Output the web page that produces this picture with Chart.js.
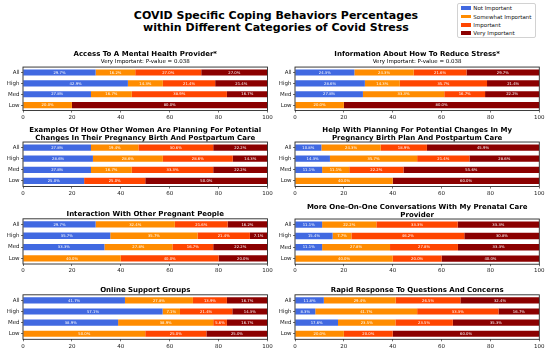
<!DOCTYPE html>
<html>
<head>
<meta charset="utf-8">
<script src="https://cdn.jsdelivr.net/npm/chart.js@4.4.1/dist/chart.umd.min.js"></script>
<style>
html,body{margin:0;padding:0;background:#fff;}
body{width:550px;height:355px;position:relative;overflow:hidden;font-family:"DejaVu Sans",sans-serif;}
canvas{position:absolute;display:block;}
#mainTitle{position:absolute;left:0;width:552px;top:9.7px;text-align:center;font-family:"DejaVu Sans";font-weight:bold;font-size:11px;line-height:12.3px;color:#000;white-space:nowrap;}
#legendBox{position:absolute;left:457px;top:3px;width:77px;height:33px;border:1px solid #d2d2d2;border-radius:2px;background:#fff;}
.lgItem{position:absolute;left:0;height:8px;}
.lgPatch{position:absolute;left:3px;top:2.2px;width:10px;height:3.6px;}
.lgText{position:absolute;left:15.3px;top:0;font-family:"DejaVu Sans";font-size:5.5px;line-height:8px;color:#111;white-space:nowrap;}
</style>
</head>
<body>
<div id="mainTitle">COVID Specific Coping Behaviors Percentages<br>within Different Categories of Covid Stress</div>
<div id="legendBox"></div>
<script>
// ---- data ----
const categories = ['All', 'High', 'Med', 'Low'];
const levels = ['Not Important', 'Somewhat Important', 'Important', 'Very Important'];
const levelColors = ['#4169E1', '#FF8C00', '#FF4500', '#8B0000'];
const xTicks = [0, 20, 40, 60, 80, 100];

const panelTitles = [
  ['Access To A Mental Health Provider*'],
  ['Information About How To Reduce Stress*'],
  ['Examples Of How Other Women Are Planning For Potential', 'Changes In Their Pregnancy Birth And Postpartum Care'],
  ['Help With Planning For Potential Changes In My', 'Pregnancy Birth Plan And Postpartum Care'],
  ['Interaction With Other Pregnant People'],
  ['More One-On-One Conversations With My Prenatal Care', 'Provider'],
  ['Online Support Groups'],
  ['Rapid Response To Questions And Concerns']
];
const panelSubtitles = [
  'Very Important: P-value = 0.038',
  'Very Important: P-value = 0.038',
  '', '', '', '', '', ''
];

// percentages per panel, rows = All, High, Med, Low
const notImportant = [
  [29.7, 42.9, 27.8, 0],
  [24.3, 28.6, 27.8, 0],
  [27.8, 28.6, 27.8, 25.0],
  [10.8, 14.3, 11.1, 0],
  [29.7, 35.7, 33.3, 0],
  [11.1, 15.4, 11.1, 0],
  [41.7, 57.1, 38.9, 0],
  [11.8, 8.3, 17.6, 0]
];
const somewhatImportant = [
  [16.2, 14.3, 16.7, 20.0],
  [24.3, 14.3, 33.3, 20.0],
  [19.4, 28.6, 16.7, 0],
  [24.3, 35.7, 11.1, 40.0],
  [32.4, 35.7, 27.8, 40.0],
  [22.2, 7.7, 27.8, 40.0],
  [27.8, 7.1, 38.9, 50.0],
  [29.4, 41.7, 23.5, 20.0]
];
const important = [
  [27.0, 21.4, 38.9, 0],
  [21.6, 35.7, 16.7, 0],
  [30.6, 28.6, 33.3, 25.0],
  [18.9, 21.4, 22.2, 0],
  [21.6, 21.4, 16.7, 40.0],
  [33.3, 46.2, 27.8, 20.0],
  [13.9, 21.4, 5.6, 25.0],
  [26.5, 33.3, 23.5, 20.0]
];
const veryImportant = [
  [27.0, 21.4, 16.7, 80.0],
  [29.7, 21.4, 22.2, 80.0],
  [22.2, 14.3, 22.2, 50.0],
  [45.9, 28.6, 55.6, 60.0],
  [16.2, 7.1, 22.2, 20.0],
  [33.3, 30.8, 33.3, 40.0],
  [16.7, 14.3, 16.7, 25.0],
  [32.4, 16.7, 35.3, 60.0]
];

// ---- layout ----
const rowPlotTop = [67.5, 142.5, 218.8, 295];
const rowPlotBottom = [111, 187, 264, 339.5];
const X_AXIS_H = 12;
const TITLE_SIZE = 7, TITLE_LH = 1.03, TITLE_PB = 0.6;
const SUB_SIZE = 5.5, SUB_LH = 1.1, SUB_PB = 2.2;

// legend (HTML)
const legendBox = document.getElementById('legendBox');
levels.forEach((lv, i) => {
  const item = document.createElement('div');
  item.className = 'lgItem';
  item.style.top = (0.3 + i * 8.33) + 'px';
  item.style.width = '77px';
  const p = document.createElement('div');
  p.className = 'lgPatch';
  p.style.background = levelColors[i];
  const t = document.createElement('div');
  t.className = 'lgText';
  t.textContent = lv;
  item.appendChild(p); item.appendChild(t);
  legendBox.appendChild(item);
});

const framePlugin = {
  id: 'frame',
  afterDatasetsDraw(chart) {
    const a = chart.chartArea, ctx = chart.ctx;
    ctx.save();
    ctx.strokeStyle = '#262626';
    ctx.lineWidth = 0.9;
    ctx.strokeRect(a.left, a.top, a.right - a.left, a.bottom - a.top);
    ctx.restore();
  }
};

const barLabelPlugin = {
  id: 'barLabels',
  afterDatasetsDraw(chart) {
    const ctx = chart.ctx;
    ctx.save();
    ctx.fillStyle = '#ffffff';
    ctx.font = '3.8px "DejaVu Sans"';
    ctx.textAlign = 'center';
    ctx.textBaseline = 'middle';
    chart.data.datasets.forEach((ds, di) => {
      const meta = chart.getDatasetMeta(di);
      meta.data.forEach((el, i) => {
        const v = ds.data[i];
        if (!v) return;
        const p = el.getProps(['x', 'base', 'y'], true);
        ctx.fillText(v.toFixed(1) + '%', (p.x + p.base) / 2, p.y + 0.2);
      });
    });
    ctx.restore();
  }
};

const seriesArrays = [notImportant, somewhatImportant, important, veryImportant];

for (let k = 0; k < 8; k++) {
  const col = k % 2, row = Math.floor(k / 2);
  const left = col === 0 ? 0 : 275;
  const yw = col === 0 ? 23 : 20;
  const padRight = col === 0 ? 7.5 : 10.7;
  const lines = panelTitles[k];
  const hasSub = panelSubtitles[k] !== '';
  let titleBox = lines.length * TITLE_SIZE * TITLE_LH + TITLE_PB;
  if (hasSub) titleBox += SUB_SIZE * SUB_LH + SUB_PB;
  const top = rowPlotTop[row] - titleBox;
  const height = rowPlotBottom[row] - top + X_AXIS_H;
  const cv = document.createElement('canvas');
  const W = 275, H = Math.round(height);
  cv.width = W; cv.height = H;
  cv.style.left = left + 'px';
  cv.style.top = top + 'px';
  cv.style.width = W + 'px';
  cv.style.height = H + 'px';
  document.body.appendChild(cv);
  const extraBottom = H - height;

  new Chart(cv.getContext('2d'), {
    type: 'bar',
    data: {
      labels: categories,
      datasets: levels.map((lv, i) => ({
        label: lv,
        data: seriesArrays[i][k],
        backgroundColor: levelColors[i],
        borderWidth: 0,
        barPercentage: 0.56,
        categoryPercentage: 1.0
      }))
    },
    options: {
      indexAxis: 'y',
      responsive: false,
      animation: false,
      devicePixelRatio: 1,
      layout: { padding: { left: 0, right: padRight, top: 0, bottom: extraBottom } },
      plugins: {
        legend: { display: false },
        tooltip: { enabled: false },
        title: {
          display: true,
          text: lines,
          color: '#000',
          fullSize: false,
          font: { family: 'DejaVu Sans', size: TITLE_SIZE, weight: 'bold', lineHeight: TITLE_LH },
          padding: { top: 0, bottom: TITLE_PB }
        },
        subtitle: {
          display: hasSub,
          text: panelSubtitles[k],
          color: '#000',
          fullSize: false,
          font: { family: 'DejaVu Sans', size: SUB_SIZE, weight: 'normal', lineHeight: SUB_LH },
          padding: { top: 0, bottom: SUB_PB }
        }
      },
      scales: {
        x: {
          stacked: true,
          min: 0, max: 100,
          afterBuildTicks(s) { s.ticks = xTicks.map(v => ({ value: v })); },
          ticks: { font: { family: 'DejaVu Sans', size: 5.5 }, color: '#222', padding: 1.5, maxRotation: 0 },
          grid: { display: true, drawOnChartArea: false, drawTicks: true, tickLength: 2, color: '#333', lineWidth: 0.7 },
          border: { display: false },
          afterFit(s) { s.height = X_AXIS_H; }
        },
        y: {
          stacked: true,
          ticks: { font: { family: 'DejaVu Sans', size: 5.5 }, color: '#222', padding: 1.5, autoSkip: false },
          grid: { display: true, offset: false, drawOnChartArea: false, drawTicks: true, tickLength: 2, color: '#333', lineWidth: 0.7 },
          border: { display: false },
          afterFit(s) { s.width = yw; }
        }
      }
    },
    plugins: [framePlugin, barLabelPlugin]
  });
}
</script>
</body>
</html>
